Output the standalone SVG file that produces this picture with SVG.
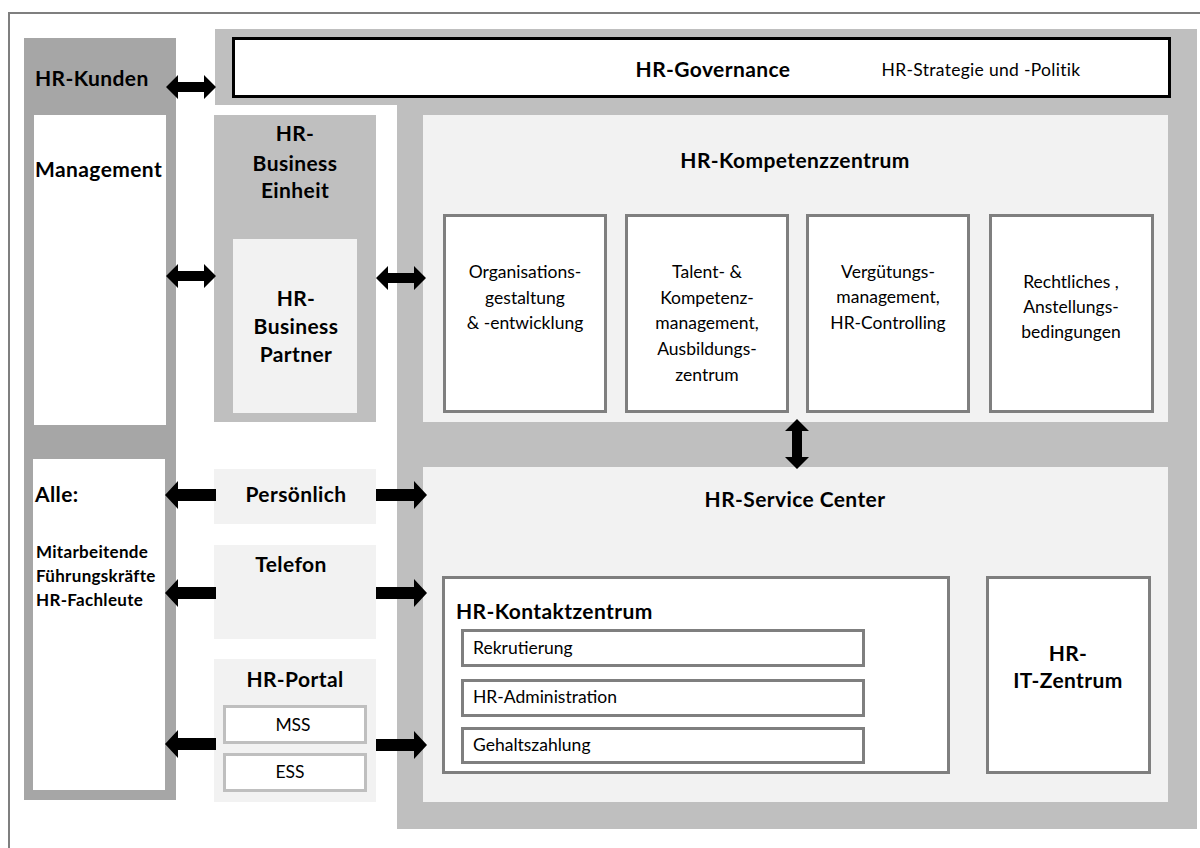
<svg xmlns="http://www.w3.org/2000/svg" width="1200" height="848" viewBox="0 0 1200 848">
  <style>
    text { font-family: Lato, "Open Sans", "Liberation Sans", sans-serif; fill: #000; }
    .b { font-weight: bold; }
    .h { font-size: 21px; font-weight: bold; letter-spacing: 0.4px; }
    .s { font-size: 17.5px; }
    .mid { text-anchor: middle; }
    .dark { fill: #a6a6a6; }
    .mid-gray { fill: #bfbfbf; }
    .light { fill: #f2f2f2; }
    .card { fill: #fff; stroke: #7f7f7f; stroke-width: 3; }
    .chip { fill: #fff; stroke: #bfbfbf; stroke-width: 3; }
    .arrow { fill: #000; }
  </style>
  <defs>
    <!-- horizontal double arrow, 50 wide, centred on origin -->
    <path id="dbl" d="M-25,0 L-13,-12 L-13,-5 L13,-5 L13,-12 L25,0 L13,12 L13,5 L-13,5 L-13,12 Z"/>
    <!-- single arrow pointing right, 51 wide, starts at origin -->
    <path id="one" d="M0,-6 L38,-6 L38,-14 L51,0 L38,14 L38,6 L0,6 Z"/>
  </defs>

  <rect width="1200" height="848" fill="#fff"/>
  <!-- outer frame -->
  <rect x="9" y="13" width="1200" height="850" fill="none" stroke="#7f7f7f" stroke-width="2"/>

  <!-- customers column -->
  <g id="hr-kunden">
    <rect class="dark" x="24" y="38" width="152" height="762"/>
    <text class="h" x="35" y="86">HR-Kunden</text>
  </g>
  <g id="management">
    <rect x="34" y="115" width="132" height="310" fill="#fff"/>
    <text class="h" x="35" y="177" letter-spacing="0">Management</text>
  </g>
  <g id="alle">
    <rect x="33" y="459" width="132" height="331" fill="#fff"/>
    <text class="h" x="35" y="502">Alle:</text>
    <text class="b" font-size="17" x="36" y="558" letter-spacing="0.3">Mitarbeitende</text>
    <text class="b" font-size="17" x="36" y="582" letter-spacing="0.3">Führungskräfte</text>
    <text class="b" font-size="17" x="36" y="606" letter-spacing="0.3">HR-Fachleute</text>
  </g>

  <!-- HR organisation backdrop -->
  <g id="hr-organisation">
    <path class="mid-gray" d="M215,29 H1197 V829 H397 V105 H215 Z"/>
  </g>
  <g id="hr-governance">
    <rect x="233.5" y="38.5" width="936" height="58" fill="#fff" stroke="#000" stroke-width="3"/>
    <text class="h mid" x="713" y="77">HR-Governance</text>
    <text class="s mid" x="981" y="76" letter-spacing="0.3">HR-Strategie und -Politik</text>
  </g>

  <g id="hr-business-einheit">
    <rect class="mid-gray" x="214" y="115" width="162" height="307"/>
    <text class="h mid" x="295" y="141">HR-</text>
    <text class="h mid" x="295" y="171">Business</text>
    <text class="h mid" x="295" y="198">Einheit</text>
  </g>
  <g id="hr-business-partner">
    <rect class="light" x="233" y="239" width="124" height="174"/>
    <text class="h mid" x="296" y="306">HR-</text>
    <text class="h mid" x="296" y="334">Business</text>
    <text class="h mid" x="296" y="362">Partner</text>
  </g>

  <g id="hr-kompetenzzentrum">
    <rect class="light" x="423" y="115" width="745" height="307"/>
    <text class="h mid" x="795" y="168">HR-Kompetenzzentrum</text>
  </g>
  <g id="organisation">
    <rect class="card" x="444.5" y="215.5" width="161" height="196"/>
    <text class="s mid" x="525" y="278">Organisations-</text>
    <text class="s mid" x="525" y="304">gestaltung</text>
    <text class="s mid" x="525" y="329">&amp; -entwicklung</text>
  </g>
  <g id="talent">
    <rect class="card" x="626.5" y="215.5" width="161" height="196"/>
    <text class="s mid" x="707" y="278">Talent- &amp;</text>
    <text class="s mid" x="707" y="304">Kompetenz-</text>
    <text class="s mid" x="707" y="329">management,</text>
    <text class="s mid" x="707" y="355">Ausbildungs-</text>
    <text class="s mid" x="707" y="381">zentrum</text>
  </g>
  <g id="verguetung">
    <rect class="card" x="807.5" y="215.5" width="161" height="196"/>
    <text class="s mid" x="888" y="278">Vergütungs-</text>
    <text class="s mid" x="888" y="303">management,</text>
    <text class="s mid" x="888" y="329">HR-Controlling</text>
  </g>
  <g id="rechtliches">
    <rect class="card" x="990.5" y="215.5" width="162" height="196"/>
    <text class="s mid" x="1071" y="288">Rechtliches ,</text>
    <text class="s mid" x="1071" y="313">Anstellungs-</text>
    <text class="s mid" x="1071" y="338">bedingungen</text>
  </g>

  <g id="hr-service-center">
    <rect class="light" x="423" y="467" width="745" height="335"/>
    <text class="h mid" x="795" y="507">HR-Service Center</text>
  </g>
  <g id="hr-kontaktzentrum">
    <rect class="card" x="443.5" y="577.5" width="505" height="195"/>
    <text class="h" x="456" y="619">HR-Kontaktzentrum</text>
  </g>
  <g id="rekrutierung">
    <rect class="card" x="462.5" y="630.5" width="401" height="35"/>
    <text class="s" x="473" y="654">Rekrutierung</text>
  </g>
  <g id="hr-administration">
    <rect class="card" x="462.5" y="680.5" width="401" height="35"/>
    <text class="s" x="473" y="703">HR-Administration</text>
  </g>
  <g id="gehaltszahlung">
    <rect class="card" x="462.5" y="728.5" width="401" height="34"/>
    <text class="s" x="473" y="751">Gehaltszahlung</text>
  </g>
  <g id="hr-it-zentrum">
    <rect class="card" x="987.5" y="577.5" width="162" height="195"/>
    <text class="h mid" x="1068" y="661">HR-</text>
    <text class="h mid" x="1068" y="688">IT-Zentrum</text>
  </g>

  <!-- contact channels -->
  <g id="persoenlich">
    <rect class="light" x="214" y="469" width="162" height="55"/>
    <text class="h mid" x="296" y="502">Persönlich</text>
  </g>
  <g id="telefon">
    <rect class="light" x="214" y="545" width="162" height="94"/>
    <text class="h mid" x="291" y="572">Telefon</text>
  </g>
  <g id="hr-portal">
    <rect class="light" x="214" y="659" width="162" height="143"/>
    <text class="h mid" x="295" y="687">HR-Portal</text>
    <rect class="chip" x="224.5" y="706.5" width="141" height="36"/>
    <text class="s mid" x="293" y="731">MSS</text>
    <rect class="chip" x="224.5" y="754.5" width="141" height="36"/>
    <text class="s mid" x="290" y="778">ESS</text>
  </g>

  <!-- connectors -->
  <g id="connectors" class="arrow">
    <use href="#dbl" x="191" y="87"/>
    <use href="#dbl" x="191" y="276"/>
    <use href="#dbl" x="401" y="278"/>
    <use href="#dbl" transform="translate(797,444) rotate(90)"/>
    <use href="#one" transform="translate(216,495) scale(-1,1)"/>
    <use href="#one" transform="translate(216,593) scale(-1,1)"/>
    <use href="#one" transform="translate(216,744) scale(-1,1)"/>
    <use href="#one" x="376" y="495"/>
    <use href="#one" x="376" y="593"/>
    <use href="#one" x="376" y="745"/>
  </g>
</svg>
